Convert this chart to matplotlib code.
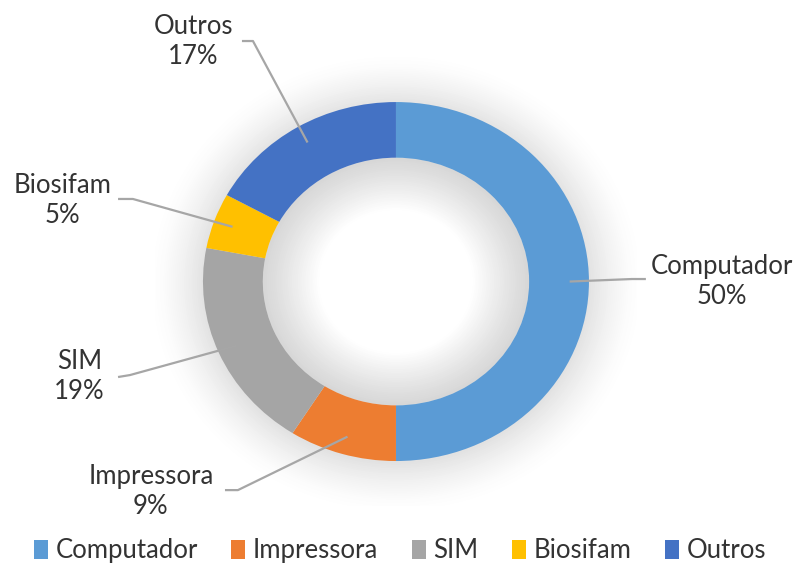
import numpy as np
import matplotlib
matplotlib.use("Agg")
import matplotlib.pyplot as plt
from matplotlib.patches import Circle, Patch

labels = ["Computador", "Impressora", "SIM", "Biosifam", "Outros"]
values = [50, 9, 19, 5, 17]
colors = ["#5B9BD5", "#ED7D31", "#A5A5A5", "#FFC000", "#4472C4"]

# label text centres and leader line elbow / end points (pie data units)
text_pos = [(1.69, 0.0), (-1.27, -1.17), (-1.64, -0.53), (-1.73, 0.45), (-1.05, 1.335)]
elbow_pos = [(1.223, 0.014), (-0.819, -1.162), (-1.378, -0.521), (-1.363, 0.46), (-0.741, 1.34)]
end_pos = [(1.295, 0.014), (-0.886, -1.162), (-1.44, -0.532), (-1.44, 0.46), (-0.798, 1.34)]

plt.rcParams['font.family'] = ['Lato', 'DejaVu Sans']
txt_color = "#333333"
fs = 18.5

fig = plt.figure(figsize=(8, 5.65), dpi=100)
ax = fig.add_axes([0.1934, 0.1046, 0.6031, 0.7942])

# soft shadow around the ring
n = 30
for i, r in enumerate(np.linspace(1.28, 1.0, n)):
    g = 1.0 - 0.115 * (i / (n - 1)) ** 1.5
    ax.add_patch(Circle((0, -0.01), r, color=(g, g, g), lw=0, zorder=0))

wedges, _ = ax.pie(values, colors=colors, startangle=90, counterclock=False,
                   radius=1.0, wedgeprops=dict(width=0.31, linewidth=0))
for w in wedges:
    w.set_zorder(2)

# shading inside the hole
for i, r in enumerate(np.linspace(0.69, 0.40, n)):
    g = 0.845 + 0.155 * (i / (n - 1)) ** 1.1
    ax.add_patch(Circle((0, 0), r, color=(g, g, g), lw=0, zorder=1))

total = sum(values)
ang = 90.0
for k in range(len(values)):
    span = 360.0 * values[k] / total
    mid = np.deg2rad(ang - span / 2)
    ang -= span
    px, py = 0.9 * np.cos(mid), 0.9 * np.sin(mid)
    ex, ey = elbow_pos[k]
    fx, fy = end_pos[k]
    ax.plot([px, ex, fx], [py, ey, fy], color="#A6A6A6", lw=1.6, zorder=3,
            solid_capstyle="butt", clip_on=False)
    tx, ty = text_pos[k]
    ax.text(tx, ty, labels[k] + "\n" + str(values[k]) + "%", ha="center",
            va="center", fontsize=fs, color=txt_color, linespacing=1.25,
            zorder=4, clip_on=False)

ax.set_aspect('auto')
ax.set_xlim(-1.25, 1.25)
ax.set_ylim(-1.25, 1.25)
ax.axis('off')

handles = [Patch(facecolor=c, edgecolor='none') for c in colors]
fig.legend(handles, labels, loc="center", bbox_to_anchor=(0.5, 0.025), ncol=5,
           frameon=False, fontsize=fs, handlelength=0.55, handleheight=0.75,
           handletextpad=0.3, columnspacing=1.3, labelcolor=txt_color)

fig.savefig("out.png", dpi=100, facecolor="white")
